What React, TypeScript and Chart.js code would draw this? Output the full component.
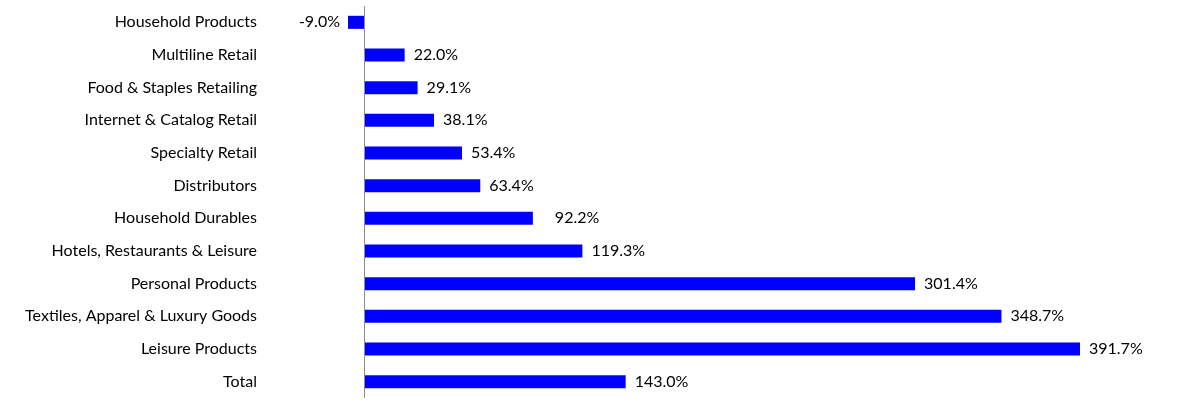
import React, { useEffect, useRef } from "react";
import { Chart, registerables } from "chart.js";

Chart.register(...registerables);

const categories = [
  "Household Products",
  "Multiline Retail",
  "Food & Staples Retailing",
  "Internet & Catalog Retail",
  "Specialty Retail",
  "Distributors",
  "Household Durables",
  "Hotels, Restaurants & Leisure",
  "Personal Products",
  "Textiles, Apparel & Luxury Goods",
  "Leisure Products",
  "Total",
];

const values = [-9.0, 22.0, 29.1, 38.1, 53.4, 63.4, 92.2, 119.3, 301.4, 348.7, 391.7, 143.0];

// extra horizontal nudge of individual value labels (style only)
const labelNudge = [0, 0, 0, 0, 0, 0, 13, 0, 0, 0, 0, 0];

const FONT = "Lato";
const FONT_SIZE = 16;

const valueLabels = {
  id: "valueLabels",
  afterDatasetsDraw(chart: any) {
    const ctx = chart.ctx;
    const meta = chart.getDatasetMeta(0);
    const xScale = chart.scales.x;
    const zero = xScale.getPixelForValue(0);
    ctx.save();
    ctx.strokeStyle = "#8c8c8c";
    ctx.lineWidth = 1;
    ctx.beginPath();
    ctx.moveTo(Math.round(zero) + 0.5, chart.chartArea.top);
    ctx.lineTo(Math.round(zero) + 0.5, chart.chartArea.bottom);
    ctx.stroke();
    ctx.font = `${FONT_SIZE}px ${FONT}`;
    ctx.fillStyle = "#000";
    ctx.textBaseline = "middle";
    meta.data.forEach((bar: any, i: number) => {
      const v = values[i];
      const text = v.toFixed(1) + "%";
      if (v < 0) {
        ctx.textAlign = "right";
        ctx.fillText(text, bar.x - 8 - labelNudge[i], bar.y);
      } else {
        ctx.textAlign = "left";
        ctx.fillText(text, bar.x + 9 + labelNudge[i], bar.y);
      }
    });
    ctx.restore();
  },
};

export default function App() {
  const ref = useRef<HTMLCanvasElement | null>(null);
  useEffect(() => {
    if (!ref.current) return;
    const chart = new Chart(ref.current, {
      type: "bar",
      data: {
        labels: categories,
        datasets: [
          {
            data: values,
            backgroundColor: "#0000FF",
            borderWidth: 0,
            barPercentage: 0.4,
            categoryPercentage: 1,
          },
        ],
      },
      options: {
        indexAxis: "y",
        responsive: true,
        maintainAspectRatio: false,
        animation: false,
        layout: { padding: { top: 6, bottom: 5, right: 113, left: 0 } },
        plugins: {
          legend: { display: false },
          tooltip: { enabled: false },
        },
        scales: {
          x: {
            display: false,
            min: Math.min(...values),
            max: Math.max(...values),
          },
          y: {
            grid: { display: false, drawTicks: false },
            border: { display: false },
            ticks: {
              color: "#000",
              padding: 91,
              autoSkip: false,
              font: { family: FONT, size: FONT_SIZE },
            },
            afterFit: (scale: any) => {
              scale.width = 348;
              scale.paddingTop = 0;
              scale.paddingBottom = 0;
            },
          },
        },
      },
      plugins: [valueLabels],
    });
    return () => chart.destroy();
  }, []);
  return (
    <div style={{ position: "absolute", left: 0, top: 0, width: 1193, height: 403 }}>
      <canvas ref={ref} style={{ width: "100%", height: "100%" }} />
    </div>
  );
}
